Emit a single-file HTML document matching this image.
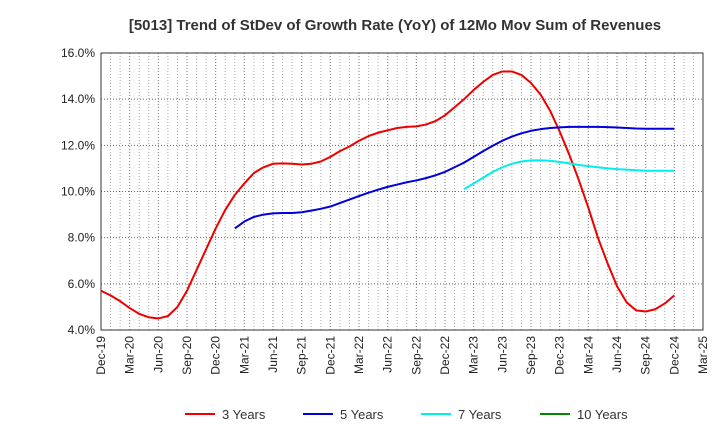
<!DOCTYPE html>
<html><head><meta charset="utf-8"><style>body{margin:0;background:#fff}svg{font-family:"Liberation Sans",sans-serif}</style></head>
<body>
<svg id="c" width="720" height="440"></svg>
<script>
const tickLabels=["Dec-19","Mar-20","Jun-20","Sep-20","Dec-20","Mar-21","Jun-21","Sep-21","Dec-21","Mar-22","Jun-22","Sep-22","Dec-22","Mar-23","Jun-23","Sep-23","Dec-23","Mar-24","Jun-24","Sep-24","Dec-24","Mar-25"];
const yTicks=[4,6,8,10,12,14,16];
const s3=[5.7,5.5,5.25,4.95,4.7,4.55,4.5,4.6,5.0,5.7,6.6,7.5,8.4,9.2,9.85,10.35,10.8,11.05,11.2,11.22,11.2,11.17,11.2,11.3,11.5,11.75,11.95,12.2,12.4,12.55,12.65,12.75,12.8,12.82,12.9,13.05,13.3,13.65,14.0,14.4,14.75,15.05,15.2,15.2,15.05,14.7,14.2,13.5,12.6,11.6,10.5,9.3,8.0,6.9,5.9,5.2,4.85,4.8,4.9,5.15,5.5];
const s5Start=14;
const s5=[8.4,8.7,8.9,9.0,9.05,9.07,9.07,9.1,9.17,9.25,9.35,9.5,9.65,9.8,9.95,10.08,10.2,10.3,10.4,10.48,10.58,10.7,10.85,11.05,11.25,11.5,11.75,11.98,12.2,12.38,12.52,12.63,12.7,12.75,12.78,12.8,12.8,12.8,12.8,12.79,12.77,12.75,12.73,12.72,12.72,12.72,12.72];
const s7Start=38;
const s7=[10.1,10.35,10.6,10.85,11.05,11.2,11.3,11.35,11.35,11.33,11.28,11.22,11.15,11.1,11.05,11.0,10.97,10.95,10.92,10.9,10.9,10.9,10.9];
const s10=[];
const L=101,R=703,T=53,B=330,NM=63;
const X=i=>L+i*(R-L)/NM, Y=v=>B-(v-4)*(B-T)/12;
const svg=document.getElementById('c');const ns="http://www.w3.org/2000/svg";
function mk(t,a,p){const e=document.createElementNS(ns,t);for(const k in a)e.setAttribute(k,a[k]);(p||svg).appendChild(e);return e;}
for(let m=1;m<NM;m++){const g=mk('line',{x1:X(m),x2:X(m),y1:T,y2:B,stroke:m%3?'#aaa':'#777','stroke-dasharray':'1,2','stroke-width':1});

}
yTicks.forEach(v=>{const g=mk('line',{x1:L,x2:R,y1:Y(v),y2:Y(v),stroke:'#666','stroke-dasharray':'1,2'});


const t=mk('text',{x:L-6,y:Y(v)+4,'text-anchor':'end','font-size':12,fill:'#222'});t.textContent=v.toFixed(1)+'%';

});
const fr=mk('rect',{x:L,y:T,width:R-L,height:B-T,fill:'none',stroke:'#333'});


tickLabels.forEach((s,i)=>{const x=X(i*3);const t=mk('text',{x:x+4,y:336,'text-anchor':'end','font-size':12,fill:'#222',transform:`rotate(-90 ${x+4} 336)`});t.textContent=s;

});
function line(d,st,c,n){if(!d.length)return;const p=mk('polyline',{points:d.map((v,i)=>X(st+i)+','+Y(v)).join(' '),fill:'none',stroke:c,'stroke-width':2,'stroke-linejoin':'round'});

}
line(s3,0,'#e00','series-3-years');line(s5,s5Start,'#00d','series-5-years');line(s7,s7Start,'#0ee','series-7-years');line(s10,0,'#080','series-10-years');
const ti=mk('text',{x:395,y:30,'text-anchor':'middle','font-size':15,'font-weight':'bold',fill:'#333'});ti.textContent='[5013]  Trend of StDev of Growth Rate (YoY) of 12Mo Mov Sum of Revenues';


[['3 Years','#e00',185],['5 Years','#00d',303],['7 Years','#0ee',421],['10 Years','#080',540]].forEach(([n,c,x])=>{
const g=mk('g',{});


mk('line',{x1:x,x2:x+30,y1:414,y2:414,stroke:c,'stroke-width':2},g);
const t=mk('text',{x:x+37,y:419,'font-size':13,fill:'#333'},g);t.textContent=n;});
</script>
</body></html>
